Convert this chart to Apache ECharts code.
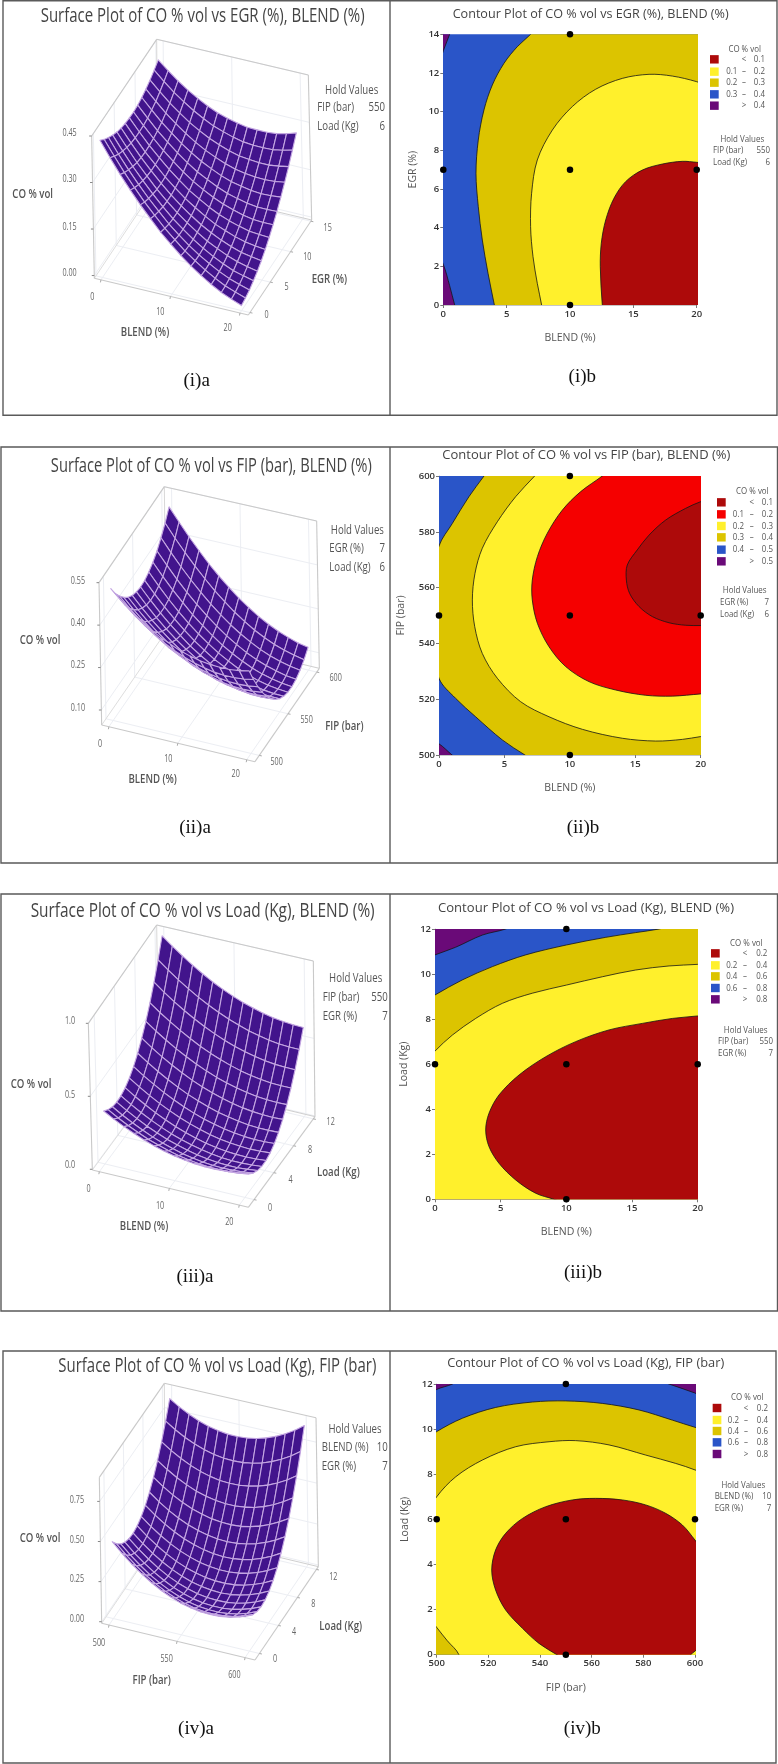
<!DOCTYPE html>
<html><head><meta charset="utf-8"><style>html,body{margin:0;padding:0;background:#fff}#c{width:778px;height:1764px}</style>
<script src="https://cdn.jsdelivr.net/npm/echarts@6/dist/echarts.min.js"></script></head><body><div id="c"></div>
<script>
// ---------- surface node positions ----------
const BLEND_NODES=[0,1.43,2.86,4.29,5.71,7.14,8.57,10,11.43,12.86,14.29,15.71,17.14,18.57,20];
const EGR_NODES=[0,1,2,3,4,5,6,7,8,9,10,11,12,13,14];
const FIP_NODES=[500,507.1,514.3,521.4,528.6,535.7,542.9,550,557.1,564.3,571.4,578.6,585.7,592.9,600];
const LOAD_NODES=[0,0.857,1.714,2.571,3.429,4.286,5.143,6,6.857,7.714,8.571,9.429,10.286,11.143,12];
// ---------- surface heights, CO % vol: outer index = horizontal factor, inner = depth factor ----------
const Z_EGR_BLEND=[
[.433,.416,.402,.390,.380,.373,.368,.366,.365,.367,.372,.379,.388,.400,.413],
[.384,.369,.356,.346,.338,.332,.329,.328,.329,.333,.339,.347,.358,.371,.386],
[.338,.324,.313,.304,.297,.293,.291,.292,.295,.300,.307,.317,.329,.344,.361],
[.295,.283,.273,.266,.261,.258,.258,.260,.264,.271,.280,.291,.305,.321,.339],
[.255,.244,.236,.230,.226,.225,.226,.230,.236,.244,.254,.267,.282,.300,.320],
[.218,.209,.202,.197,.195,.195,.198,.203,.210,.220,.232,.246,.263,.282,.303],
[.182,.175,.169,.166,.166,.168,.172,.178,.187,.198,.212,.228,.246,.266,.289],
[.151,.145,.141,.140,.141,.144,.150,.158,.168,.181,.196,.213,.233,.255,.279],
[.122,.117,.115,.115,.118,.122,.130,.139,.151,.165,.181,.200,.221,.245,.271],
[.096,.093,.092,.094,.097,.104,.112,.123,.137,.152,.170,.190,.213,.238,.265],
[.073,.071,.072,.075,.081,.088,.099,.111,.126,.143,.163,.184,.209,.235,.264],
[.052,.052,.054,.059,.066,.075,.087,.101,.117,.136,.157,.180,.206,.234,.264],
[.034,.035,.039,.045,.054,.064,.078,.093,.111,.131,.154,.179,.206,.235,.267],
[.020,.023,.028,.036,.046,.058,.073,.090,.109,.131,.155,.181,.210,.241,.274],
[.007,.012,.018,.028,.039,.053,.069,.088,.109,.132,.158,.186,.216,.249,.284]];
const Z_FIP_BLEND=[
[.512,.474,.443,.417,.396,.381,.372,.368,.370,.378,.391,.409,.434,.464,.499],
[.479,.441,.408,.381,.360,.344,.334,.329,.330,.337,.349,.367,.390,.419,.454],
[.450,.411,.377,.349,.326,.310,.298,.293,.293,.298,.310,.326,.349,.377,.411],
[.424,.384,.349,.320,.296,.279,.266,.260,.259,.263,.274,.289,.311,.338,.371],
[.401,.360,.324,.294,.269,.250,.237,.230,.228,.231,.240,.255,.276,.302,.333],
[.380,.338,.301,.270,.245,.225,.211,.202,.199,.202,.210,.224,.243,.268,.299],
[.364,.320,.283,.251,.224,.203,.188,.178,.174,.176,.183,.196,.214,.238,.268],
[.349,.305,.266,.233,.205,.184,.167,.157,.151,.152,.158,.170,.187,.210,.239],
[.338,.293,.253,.219,.191,.168,.150,.139,.133,.132,.137,.148,.164,.186,.214],
[.330,.284,.243,.208,.178,.154,.136,.123,.116,.114,.119,.128,.144,.164,.191],
[.325,.277,.236,.199,.169,.144,.125,.111,.103,.100,.103,.112,.126,.146,.172],
[.323,.274,.231,.194,.163,.137,.116,.102,.093,.089,.091,.099,.112,.131,.156],
[.323,.274,.230,.192,.159,.132,.111,.095,.085,.081,.082,.089,.101,.119,.143],
[.327,.277,.232,.193,.159,.131,.109,.092,.081,.076,.076,.081,.093,.110,.132],
[.334,.283,.237,.197,.162,.133,.110,.092,.080,.073,.072,.077,.087,.103,.125]];
const Z_LOAD_BLEND=[
[.356,.325,.304,.296,.298,.313,.338,.375,.424,.484,.555,.638,.733,.839,.956],
[.317,.284,.263,.254,.255,.268,.293,.329,.377,.436,.506,.588,.682,.787,.903],
[.282,.248,.226,.216,.216,.229,.252,.288,.334,.392,.462,.543,.635,.739,.855],
[.251,.216,.193,.181,.181,.192,.215,.249,.295,.352,.421,.501,.592,.695,.810],
[.223,.187,.163,.151,.150,.160,.182,.215,.260,.316,.384,.463,.553,.655,.769],
[.199,.163,.138,.124,.122,.131,.152,.185,.228,.283,.350,.428,.518,.619,.731],
[.179,.142,.116,.102,.099,.107,.127,.158,.201,.255,.321,.398,.487,.587,.698],
[.163,.125,.098,.083,.079,.086,.105,.135,.177,.231,.295,.372,.459,.558,.669],
[.151,.112,.084,.068,.063,.069,.087,.117,.157,.210,.274,.349,.435,.534,.643],
[.143,.103,.074,.057,.051,.056,.073,.102,.142,.193,.256,.330,.416,.513,.622],
[.139,.097,.068,.049,.042,.047,.063,.091,.130,.180,.242,.315,.400,.496,.604],
[.138,.096,.065,.046,.038,.042,.057,.083,.121,.171,.232,.304,.388,.483,.590],
[.141,.098,.067,.046,.038,.040,.054,.080,.117,.166,.226,.297,.380,.474,.580],
[.149,.104,.072,.051,.041,.043,.056,.081,.117,.164,.223,.294,.376,.469,.574],
[.160,.115,.081,.059,.048,.049,.061,.085,.120,.167,.225,.295,.376,.468,.572]];
const Z_LOAD_FIP=[
[.469,.418,.380,.353,.338,.334,.343,.363,.395,.439,.494,.561,.640,.731,.833],
[.410,.361,.324,.298,.285,.283,.293,.314,.348,.393,.450,.519,.599,.691,.795],
[.357,.310,.274,.250,.238,.237,.249,.272,.307,.353,.412,.482,.564,.657,.763],
[.311,.265,.230,.208,.197,.198,.211,.236,.272,.320,.380,.452,.535,.630,.737],
[.270,.226,.193,.172,.162,.165,.179,.205,.243,.292,.354,.427,.512,.608,.716],
[.236,.193,.162,.142,.134,.138,.154,.182,.221,.272,.335,.409,.495,.593,.703],
[.208,.167,.137,.118,.112,.117,.135,.163,.204,.257,.321,.397,.484,.584,.695],
[.186,.146,.118,.101,.096,.103,.122,.152,.194,.248,.314,.391,.480,.581,.694],
[.171,.132,.105,.090,.086,.095,.115,.146,.190,.245,.312,.391,.482,.584,.698],
[.161,.124,.099,.085,.083,.092,.114,.147,.192,.249,.317,.398,.490,.594,.709],
[.158,.122,.098,.086,.085,.096,.119,.154,.200,.259,.329,.410,.504,.609,.726],
[.161,.127,.104,.093,.094,.107,.131,.167,.215,.275,.346,.429,.524,.631,.749],
[.170,.137,.116,.107,.109,.123,.149,.186,.236,.297,.370,.454,.551,.659,.779],
[.186,.154,.134,.126,.130,.146,.173,.212,.263,.325,.400,.486,.583,.693,.814],
[.207,.177,.159,.152,.157,.174,.203,.243,.296,.360,.435,.523,.622,.733,.856]];

// ---------- contour boundaries ----------
const C1_BASE=[[-2,-2],[22,-2],[22,16],[-2,16]];
const C1_PURPLE_LOW=[[-1,3.5],[0,2.1],[.5,1],[.9,0],[1.2,-.6],[-1,-.6]];
const C1_PURPLE_HIGH=[[-.3,12.6],[0,13.15],[.5,14],[.8,14.5],[-1,14.5]];
const C1_03=[[7.5,14.5],[6.89,14],[5.84,13.36],[4.79,12.5],[3.87,11.38],[3.21,10.09],[2.76,8.53],[2.58,6.81],[2.76,5.09],[3.08,3.36],[3.53,1.64],[4.03,0],[4.2,-.6],[30,-.6],[30,14.5]];
const C1_02=[[21.5,11.2],[20,11.55],[18.08,11.84],[16.24,11.93],[14.13,11.72],[12.03,11.16],[10.18,10.26],[8.61,9.05],[7.42,7.5],[6.97,5.78],[6.89,4.05],[7.08,2.5],[7.42,1.12],[7.76,0],[7.9,-.6],[30,-.6],[30,11.2]];
const C1_01=[[21.5,7.3],[20,7.38],[18.87,7.43],[17.29,7.29],[15.71,6.98],[14.39,6.38],[13.47,5.52],[12.82,4.4],[12.47,3.19],[12.39,1.98],[12.55,0],[12.7,-.6],[30,-.6],[30,7.3]];

const C2_BASE=[[-2,490],[22,490],[22,610],[-2,610]];
const C2_PURPLE=[[-1,506],[0,504],[1,500],[1.6,498],[-1,498]];
const C2_04=[[3.9,603],[3.44,600],[2.29,592.6],[1.02,583],[0,574.9],[-1.2,551],[0,527.5],[1.27,520.3],[2.8,513.7],[4.84,505.4],[6.57,500],[8,496],[30,496],[30,610],[5,610]];
const C2_03=[[8.1,604],[7.31,600],[5.86,592.6],[4.46,583.6],[3.31,574.1],[2.75,565.1],[2.55,555.6],[2.73,546],[3.31,536.4],[4.46,527.5],[6.24,519.1],[8.41,513.7],[10.96,509.2],[14.01,506],[16.56,505],[18.6,505.6],[20,506.6],[21.5,507.5],[30,507.5],[30,604]];
const C2_02=[[13.5,604],[12.48,600],[10.83,594.4],[9.43,587.8],[8.28,579.5],[7.52,571.1],[7.13,562.7],[7.13,555.6],[7.52,547.2],[8.41,538.8],[9.68,531.7],[11.46,526.3],[13.5,523.3],[15.8,521.4],[17.83,521.1],[20,521.9],[21.5,522.5],[30,522.5],[30,604]];
const C2_01=[[21.5,593],[20,590.8],[18.85,588.4],[17.32,584.2],[16.05,578.8],[15.15,573.5],[14.39,568.1],[14.32,562.7],[14.57,557.9],[15.29,553.2],[16.31,549.6],[17.58,547.4],[18.85,546.5],[20,546.4],[21.5,546.4],[30,546],[30,593]];

const C3_BASE=[[-2,-2],[22,-2],[22,14],[-2,14]];
const C3_08=[[-1,10.6],[0,10.85],[1.57,11.19],[3.6,11.73],[5.38,12],[6.5,12.3],[30,12.3],[30,-1],[-1,-1]];
const C3_06=[[-1,8.7],[0,9.07],[2.08,9.74],[4.37,10.33],[6.9,10.85],[10,11.29],[13,11.63],[15.28,11.84],[17.06,12],[18.5,12.2],[30,12.2],[30,-1],[-1,-1]];
const C3_04=[[-1,5.9],[0,6.58],[1.32,7.29],[3.1,8.03],[5.13,8.7],[7.41,9.15],[10,9.51],[12.74,9.88],[15.28,10.18],[17.82,10.36],[20,10.43],[21.5,10.5],[30,10.5],[30,-1],[-1,-1]];
const C3_02=[[30,8.3],[21.5,8.25],[20,8.14],[18.07,8.03],[15.79,7.81],[13.25,7.52],[10.71,7],[8.43,6.33],[6.4,5.52],[4.87,4.63],[4.11,3.82],[3.86,3.08],[4.11,2.34],[4.87,1.6],[6.14,.86],[7.66,.27],[9.06,0],[10.5,-.3],[30,-.5]];

const C4_BASE=[[490,-2],[610,-2],[610,14],[490,14]];
const C4_PURPLE_L=[[497,11.5],[500,11.76],[506.1,12],[510,12.3],[497,12.5]];
const C4_PURPLE_R=[[586,12.2],[589.9,12],[600,11.6],[603,11.4],[603,12.5]];
const C4_06=[[497,9.6],[500,9.89],[509.9,10.48],[522.8,10.96],[537,11.2],[549.9,11.25],[564.1,11.14],[578.3,10.85],[591.2,10.4],[600,10.08],[603,10],[610,10],[610,-1],[490,-1],[490,9.6]];
const C4_04=[[497,6.3],[500,7],[507.4,7.89],[517.7,8.63],[530.6,9.22],[543.5,9.44],[553.8,9.49],[566.7,9.3],[580.9,8.85],[592.5,8.48],[600,8.19],[603,8],[603,-1],[510,-1],[508.6,0],[504.1,.62],[500,1.21],[497,1.7]];
const C4_02=[[603,4.6],[600,5.08],[595.1,5.75],[588.6,6.27],[580.9,6.64],[571.9,6.86],[561.5,6.93],[552.5,6.86],[542.2,6.56],[533.2,6.04],[526.7,5.38],[522.8,4.64],[521.3,3.75],[522.8,2.87],[526.7,1.98],[533.2,1.17],[539.6,.5],[546.5,0],[551,-.3],[596,-.3],[598.3,0],[600,.16],[603,.5]];

// ---------- design points ----------
const PTS1=[[0,7],[10,0],[10,7],[10,14],[20,7]];
const PTS2=[[0,550],[10,500],[10,550],[10,600],[20,550]];
const PTS3=[[0,6],[10,0],[10,6],[10,12],[20,6]];
const PTS4=[[500,6],[550,0],[550,6],[550,12],[600,6]];

const RED='#ad0a0a',BRIGHT='#f50000',YEL='#fff02c',DYEL='#dcc400',BLUE='#2a55c8',PUR='#6a0a78';
const TITLES_A=['Surface Plot of CO % vol vs EGR (%), BLEND (%)','Surface Plot of CO % vol vs FIP (bar), BLEND (%)','Surface Plot of CO % vol vs Load (Kg), BLEND (%)','Surface Plot of CO % vol vs Load (Kg), FIP (bar)'];
const TITLES_B=['Contour Plot of CO % vol vs EGR (%), BLEND (%)','Contour Plot of CO % vol vs FIP (bar), BLEND (%)','Contour Plot of CO % vol vs Load (Kg), BLEND (%)','Contour Plot of CO % vol vs Load (Kg), FIP (bar)'];
const CAPT_A=['(i)a','(ii)a','(iii)a','(iv)a'];
const CAPT_B=['(i)b','(ii)b','(iii)b','(iv)b'];
const LEG1=[['','<','0.1'],['0.1','–','0.2'],['0.2','–','0.3'],['0.3','–','0.4'],['','>','0.4']];
const LEG2=[['','<','0.1'],['0.1','–','0.2'],['0.2','–','0.3'],['0.3','–','0.4'],['0.4','–','0.5'],['','>','0.5']];
const LEG3=[['','<','0.2'],['0.2','–','0.4'],['0.4','–','0.6'],['0.6','–','0.8'],['','>','0.8']];

const chart=echarts.init(document.getElementById('c'),null,{renderer:'canvas',width:778,height:1764});
const graphic=[],series=[];
const mctx=document.createElement('canvas').getContext('2d');
function T(x,y,text,o){o=o||{};const s=o.s||10,fam=o.f||'"Open Sans"',wt=o.b||'normal';let sx=o.sx||1;
  const font=wt+' '+s+'px '+fam;
  if(o.w){mctx.font=font;sx=o.w/mctx.measureText(text).width;}
  graphic.push({type:'text',x,y,scaleX:sx,rotation:o.r||0,silent:true,z:50,style:{text,x:0,y:0,font,fill:o.c||'#444',align:o.a||'center',verticalAlign:'middle'}});}
function R(x,y,w,h,fill,stroke,lw){graphic.push({type:'rect',silent:true,z:fill?40:60,shape:{x,y,width:w,height:h},style:{fill:fill||'transparent',stroke:stroke||null,lineWidth:lw||1}});}

// panel frames
const FRAME='#5a5a5a';
[[3,0.7,774,414.5,390],[1,447,776.5,416,390],[1,894,776.5,417,390],[3,1351,773,412,390]].forEach(f=>{
  R(f[0],f[1],f[2],f[3],null,FRAME,1.4);
  graphic.push({type:'line',silent:true,z:60,shape:{x1:f[4],y1:f[1],x2:f[4],y2:f[1]+f[3]},style:{stroke:FRAME,lineWidth:1.4}});
});

// ---------- surfaces ----------
const SURF=[
 {ox:0,oy:0,Z:Z_EGR_BLEND,xn:BLEND_NODES,yn:EGR_NODES,xr:[-.95,21.2],yr:[-.4,15.2],zr:[-.009,.45],
  FLB:[283,835],FRB:[745,945],BRB:[935,660],BLB:[473,550],FLT:[275,408],BLT:[470,118],BRT:[925,225],
  xt:[0,10,20],yt:[0,5,10,15],zt:[0,.15,.3,.45],
  xl:[['0',277,890],['10',481,936],['20',683,985]],yl:[['0',800,945],['5',860,860],['10',922,772],['15',983,685]],
  zl:[['0.45',400],['0.30',537],['0.15',680],['0.00',818]],zr0:230,
  co:[98,582],xname:['BLEND (%)',435,998],yname:['EGR (%)',988,838],
  hold:[1055,270,952,1155,323,380,['FIP (bar)','550'],['Load (Kg)','6']],title:[608,48,324],cap:[590,1143]},
 {ox:0,oy:440,Z:Z_FIP_BLEND,xn:BLEND_NODES,yn:FIP_NODES,xr:[-1.05,21.2],yr:[492.5,604.5],zr:[.047,.55],
  FLB:[305,855],FRB:[765,965],BRB:[958,685],BLB:[498,575],FLT:[297,428],BLT:[493,140],BRT:[950,243],
  xt:[0,10,20],yt:[500,550,600],zt:[.1,.25,.4,.55],
  xl:[['0',300,912],['10',505,957],['20',707,1003]],yl:[['500',830,965],['550',920,840],['600',1007,715]],
  zl:[['0.55',422],['0.40',548],['0.25',675],['0.10',803]],zr0:255,
  co:[120,602],xname:['BLEND (%)',458,1017],yname:['FIP (bar)',1033,860],
  hold:[1072,270,988,1155,325,382,['EGR (%)','7'],['Load (Kg)','6']],title:[634,80,321],cap:[585,1163]},
 {ox:0,oy:860,Z:Z_LOAD_BLEND,xn:BLEND_NODES,yn:LOAD_NODES,xr:[-1,21.3],yr:[-1.15,12.33],zr:[-.005,1],
  FLB:[277,930],FRB:[745,1042],BRB:[945,770],BLB:[477,658],FLT:[265,490],BLT:[470,195],BRT:[940,303],
  xt:[0,10,20],yt:[0,4,8,12],zt:[0,.5,1],
  xl:[['0',266,988],['10',480,1038],['20',688,1085]],yl:[['0',810,1045],['4',872,960],['8',930,870],['12',992,787]],
  zl:[['1.0',484],['0.5',704],['0.0',916]],zr0:225,
  co:[93,672],xname:['BLEND (%)',432,1100],yname:['Load (Kg)',1015,938],
  hold:[1067,355,968,1163,412,470,['FIP (bar)','550'],['EGR (%)','7']],title:[608,155,344],cap:[585,1250]},
 {ox:0,oy:1320,Z:Z_LOAD_FIP,xn:FIP_NODES,yn:LOAD_NODES,xr:[494.6,607.3],yr:[-.93,12.4],zr:[-.01,.9],
  FLB:[305,910],FRB:[765,1020],BRB:[955,740],BLB:[495,630],FLT:[298,472],BLT:[493,190],BRT:[948,293],
  xt:[500,550,600],yt:[0,4,8,12],zt:[0,.25,.5,.75],
  xl:[['500',297,968],['550',500,1017],['600',703,1065]],yl:[['0',825,1018],['4',882,935],['8',940,853],['12',1000,770]],
  zl:[['0.75',540],['0.50',660],['0.25',778],['0.00',898]],zr0:252,
  co:[120,655],xname:['FIP (bar)',455,1080],yname:['Load (Kg)',1022,918],
  hold:[1065,328,965,1163,382,438,['BLEND (%)','10'],['EGR (%)','7']],title:[652,138,318],cap:[588,1228]}
];
const lm=echarts.number.linearMap;
SURF.forEach((S,si)=>{
  const X=v=>S.ox+v/3,Y=v=>S.oy+v/3;
  const c=k=>[X(S[k][0]),Y(S[k][1])];
  const FLB=c('FLB'),FRB=c('FRB'),BRB=c('BRB'),BLB=c('BLB'),FLT=c('FLT'),BLT=c('BLT'),BRT=c('BRT');
  const FRT=[FLT[0]+BRT[0]-BLT[0],FLT[1]+BRT[1]-BLT[1]];
  const bi=(a,b,c2,d,u,v,k)=>(a[k]*(1-u)+b[k]*u)*(1-v)+(d[k]*(1-u)+c2[k]*u)*v;
  const proj=(x,y,z)=>{const u=lm(x,S.xr,[0,1]),v=lm(y,S.yr,[0,1]),w=lm(z,S.zr,[0,1]);
    return [0,1].map(k=>bi(FLB,FRB,BRB,BLB,u,v,k)*(1-w)+bi(FLT,FRT,BRT,BLT,u,v,k)*w);};
  const seg=(a,b,col,lw)=>({type:'line',shape:{x1:a[0],y1:a[1],x2:b[0],y2:b[1]},style:{stroke:col,lineWidth:lw||1,fill:null}});
  series.push({type:'custom',coordinateSystem:'none',silent:true,z:2,data:[[si]],renderItem(){
    const ch=[],W='#eceef3',E='#c9c9c9',[x0,x1]=S.xr,[y0,y1]=S.yr,[z0,z1]=S.zr;
    S.xt.forEach(t=>{ch.push(seg(proj(t,y0,z0),proj(t,y1,z0),W));ch.push(seg(proj(t,y1,z0),proj(t,y1,z1),W));});
    S.yt.forEach(t=>{ch.push(seg(proj(x0,t,z0),proj(x1,t,z0),W));ch.push(seg(proj(x0,t,z0),proj(x0,t,z1),W));});
    S.zt.forEach(t=>{ch.push(seg(proj(x0,y0,t),proj(x0,y1,t),W));ch.push(seg(proj(x0,y1,t),proj(x1,y1,t),W));});
    ch.push(seg(FLB,BLB,'#dedede'),seg(BLB,BRB,'#cfcfcf'),seg(BLB,BLT,'#d8d8d8'));
    ch.push(seg(FLB,FRB,E,1.1),seg(FRB,BRB,E,1.1),seg(FLB,FLT,E,1.1),seg(FLT,BLT,E,1.1),seg(BLT,BRT,E,1.1),seg(BRT,BRB,E,1.1));
    S.zt.forEach(t=>{const p=proj(x0,y0,t);ch.push(seg(p,[p[0]-2.5,p[1]],'#888'));});
    S.xt.forEach(t=>{const p=proj(t,y0,z0);ch.push(seg(p,[p[0]-.5,p[1]+2.5],'#aaa'));});
    S.yt.forEach(t=>{const p=proj(x1,t,z0);ch.push(seg(p,[p[0]+2.5,p[1]+.5],'#aaa'));});
    return {type:'group',children:ch};
  }});
  const cells=[];
  for(let j=S.yn.length-2;j>=0;j--)for(let i=0;i<S.xn.length-1;i++)cells.push([i,j]);
  series.push({type:'custom',coordinateSystem:'none',silent:true,z:3,data:cells,renderItem(p,api){
    const i=api.value(0),j=api.value(1),Z=S.Z,xn=S.xn,yn=S.yn;
    const pts=[proj(xn[i],yn[j],Z[i][j]),proj(xn[i+1],yn[j],Z[i+1][j]),proj(xn[i+1],yn[j+1],Z[i+1][j+1]),proj(xn[i],yn[j+1],Z[i][j+1])];
    return {type:'polygon',shape:{points:pts},style:{fill:'#42148c',stroke:'#c4a6e2',lineWidth:1.1,lineJoin:'round'}};
  }});
  const narrow={s:13,sx:.74,c:'#555'},tk={s:10,sx:.72,c:'#666'};
  T(X(S.title[0]),Y(S.title[1]),TITLES_A[si],{s:20,w:S.title[2],c:'#444'});
  T(X(S.co[0]),Y(S.co[1]),'CO % vol',{...narrow,b:'600'});
  T(X(S.xname[1]),Y(S.xname[2]),S.xname[0],{...narrow,b:'600'});
  T(X(S.yname[1]),Y(S.yname[2]),S.yname[0],{...narrow,b:'600'});
  S.xl.concat(S.yl).forEach(l=>T(X(l[1]),Y(l[2]),l[0],tk));
  S.zl.forEach(l=>T(X(S.zr0),Y(l[1]),l[0],{...tk,a:'right'}));
  const h=S.hold;
  T(X(h[0]),Y(h[1]),'Hold Values',narrow);
  [6,7].forEach((k,n)=>{const yy=Y(h[4+n]);T(X(h[2]),yy,h[k][0],{...narrow,a:'left'});T(X(h[3]),yy,h[k][1],{...narrow,a:'right'});});
  T(X(S.cap[0]),Y(S.cap[1]),CAPT_A[si],{s:19,f:'"Liberation Serif"',c:'#111'});
});

// ---------- contour plots ----------
const PLOTS=[
 {ox:389,oy:0,g:[443.3,696.7,34.3,305],xlim:[0,20,5],ylim:[0,14,2],xn:'BLEND (%)',yn:'EGR (%)',xg:27.7,yg:25,pts:PTS1,
  layers:[[C1_BASE,BLUE],[C1_PURPLE_LOW,PUR],[C1_PURPLE_HIGH,PUR],[C1_03,DYEL],[C1_02,YEL],[C1_01,RED]],
  legCols:[RED,YEL,DYEL,BLUE,PUR],leg:LEG1,head:[1067,147],sw:963,rows:[178,215,248,283,317],ca:1045,cd:1065,cb:1128,
  hold:[1060,418,972,1143,452,487,['FIP (bar)','550'],['Load (Kg)','6']],title:[605,41,276],cap:[580,1132]},
 {ox:389,oy:440,g:[439,700.7,476,755],xlim:[0,20,5],ylim:[500,600,20],xn:'BLEND (%)',yn:'FIP (bar)',xg:27.7,yg:32,pts:PTS2,
  layers:[[C2_BASE,BLUE],[C2_PURPLE,PUR],[C2_04,DYEL],[C2_03,YEL],[C2_02,BRIGHT],[C2_01,RED]],
  legCols:[RED,BRIGHT,YEL,DYEL,BLUE,PUR],leg:LEG2,head:[1090,155],sw:984,rows:[187,223,258,292,329,364],ca:1065,cd:1088,cb:1152,
  hold:[1067,451,993,1140,486,522,['EGR (%)','7'],['Load (Kg)','6']],title:[592,46,288],cap:[582,1165]},
 {ox:389,oy:860,g:[435,697.7,929,1199.3],xlim:[0,20,5],ylim:[0,12,2],xn:'BLEND (%)',yn:'Load (Kg)',xg:27.4,yg:25,pts:PTS3,
  layers:[[C3_BASE,PUR],[C3_08,BLUE],[C3_06,DYEL],[C3_04,YEL],[C3_02,RED]],
  legCols:[RED,YEL,DYEL,BLUE,PUR],leg:LEG3,head:[1072,249],sw:966,rows:[280,316,349,384,418],ca:1045,cd:1068,cb:1135,
  hold:[1070,511,987,1152,544,579,['FIP (bar)','550'],['EGR (%)','7']],title:[591,144,296],cap:[582,1240]},
 {ox:389,oy:1320,g:[436.7,695,1384,1654.7],xlim:[500,600,20],ylim:[0,12,2],xn:'FIP (bar)',yn:'Load (Kg)',xg:27.7,yg:26,pts:PTS4,
  layers:[[C4_BASE,BLUE],[C4_PURPLE_L,PUR],[C4_PURPLE_R,PUR],[C4_06,DYEL],[C4_04,YEL],[C4_02,RED]],
  legCols:[RED,YEL,DYEL,BLUE,PUR],leg:LEG3,head:[1075,233],sw:971,rows:[264,300,333,367,402],ca:1050,cd:1071,cb:1137,
  hold:[1063,497,977,1147,530,565,['BLEND (%)','10'],['EGR (%)','7']],title:[590,130,277],cap:[580,1226]}
];
const grids=[],xAxes=[],yAxes=[];
PLOTS.forEach((P,pi)=>{
  const X=v=>P.ox+v/3,Y=v=>P.oy+v/3;
  grids.push({left:P.g[0],width:P.g[1]-P.g[0],top:P.g[2],height:P.g[3]-P.g[2],show:false});
  const ax=(lim,name,gap)=>({type:'value',gridIndex:pi,min:lim[0],max:lim[1],interval:lim[2],name,nameLocation:'middle',nameGap:gap,
    nameTextStyle:{fontFamily:'"Open Sans"',fontSize:10.5,color:'#555'},splitLine:{show:false},
    axisLine:{show:true,onZero:false,lineStyle:{color:'#c6c6c6',width:1}},axisTick:{show:true,length:3,lineStyle:{color:'#777'}},
    axisLabel:{fontFamily:'"Open Sans"',fontSize:9.5,fontWeight:600,color:'#333',margin:4}});
  xAxes.push(ax(P.xlim,P.xn,P.xg));yAxes.push(ax(P.ylim,P.yn,P.yg));
  series.push({type:'custom',xAxisIndex:pi,yAxisIndex:pi,clip:true,silent:true,z:1,data:P.layers.map((l,i)=>[i]),renderItem(p,api){
    const l=P.layers[api.value(0)];
    return {type:'polygon',shape:{points:l[0].map(q=>api.coord(q)),smooth:.33},style:{fill:l[1],stroke:api.value(0)===0?null:'#151515',lineWidth:.8}};
  }});
  series.push({type:'scatter',xAxisIndex:pi,yAxisIndex:pi,data:P.pts,symbolSize:6.5,clip:false,silent:true,z:4,itemStyle:{color:'#000',opacity:1}});
  T(X(P.title[0]),Y(P.title[1]),TITLES_B[pi],{s:13.5,w:P.title[2],c:'#444'});
  const sm={s:9,sx:.88,c:'#555'};
  T(X(P.head[0]),Y(P.head[1]),'CO % vol',sm);
  P.rows.forEach((ry,i)=>{
    R(X(P.sw),Y(ry)-4.2,8.7,8.4,P.legCols[i]);
    const yy=Y(ry),r=P.leg[i];
    if(r[0])T(X(P.ca),yy,r[0],{...sm,a:'right'});
    T(X(P.cd),yy,r[1],sm);T(X(P.cb),yy,r[2],{...sm,a:'right'});
  });
  const h=P.hold;
  T(X(h[0]),Y(h[1]),'Hold Values',sm);
  [6,7].forEach((k,n)=>{const yy=Y(h[4+n]);T(X(h[2]),yy,h[k][0],{...sm,a:'left'});T(X(h[3]),yy,h[k][1],{...sm,a:'right'});});
  T(X(P.cap[0]),Y(P.cap[1]),CAPT_B[pi],{s:19,f:'"Liberation Serif"',c:'#111'});
});
chart.setOption({animation:false,backgroundColor:'#fff',grid:grids,xAxis:xAxes,yAxis:yAxes,series,graphic:{elements:graphic}});
</script></body></html>
